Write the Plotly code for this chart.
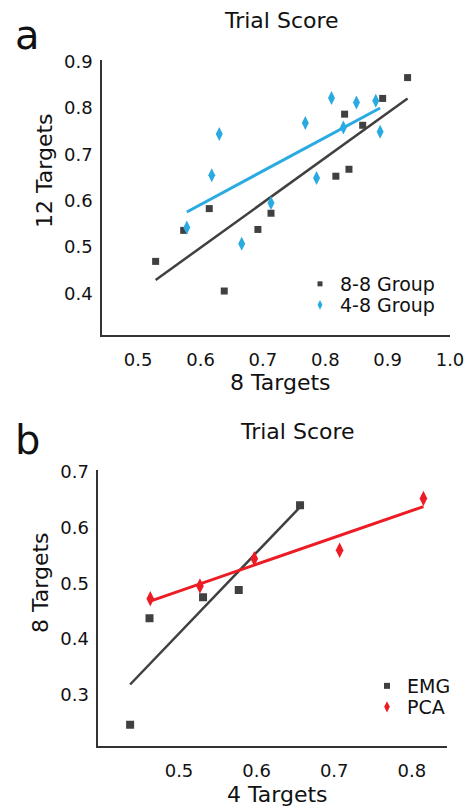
import numpy as np
import plotly.graph_objects as go

W, H = 473, 807

# ---- Panel a data (8 Targets vs 12 Targets) ----
a_g88_x = [0.528, 0.573, 0.614, 0.638, 0.692, 0.713, 0.817, 0.838, 0.831, 0.860, 0.892, 0.932]
a_g88_y = [0.469, 0.536, 0.583, 0.405, 0.538, 0.573, 0.653, 0.668, 0.787, 0.763, 0.821, 0.866]
a_g48_x = [0.578, 0.618, 0.630, 0.666, 0.713, 0.768, 0.786, 0.810, 0.829, 0.850, 0.881, 0.888]
a_g48_y = [0.542, 0.655, 0.744, 0.507, 0.595, 0.768, 0.649, 0.822, 0.758, 0.812, 0.816, 0.749]

# ---- Panel b data (4 Targets vs 8 Targets) ----
b_emg_x = [0.437, 0.462, 0.531, 0.577, 0.656]
b_emg_y = [0.246, 0.437, 0.475, 0.488, 0.640]
b_pca_x = [0.463, 0.527, 0.597, 0.707, 0.815]
b_pca_y = [0.472, 0.495, 0.544, 0.559, 0.652]

a_xticks = [0.5, 0.6, 0.7, 0.8, 0.9, 1.0]
a_xticklabels = ["0.5", "0.6", "0.7", "0.8", "0.9", "1.0"]
a_yticks = [0.4, 0.5, 0.6, 0.7, 0.8, 0.9]
b_xticks = [0.5, 0.6, 0.7, 0.8]
b_yticks = [0.3, 0.4, 0.5, 0.6, 0.7]

GRAY = "#404040"
BLUE = "#29abe2"
RED = "#ed1c24"
FONT = "DejaVu Sans"


def fit(xs, ys):
    xs = np.asarray(xs)
    ys = np.asarray(ys)
    m, c = np.polyfit(xs, ys, 1)
    fx = np.array([xs.min(), xs.max()])
    return fx, m * fx + c


fig = go.Figure()

# Panel a
fx, fy = fit(a_g88_x, a_g88_y)
fig.add_trace(go.Scatter(x=fx, y=fy, mode="lines", line=dict(color=GRAY, width=2.5),
                         showlegend=False, xaxis="x", yaxis="y"))
fx, fy = fit(a_g48_x, a_g48_y)
fig.add_trace(go.Scatter(x=fx, y=fy, mode="lines", line=dict(color=BLUE, width=3),
                         showlegend=False, xaxis="x", yaxis="y"))
fig.add_trace(go.Scatter(x=a_g88_x, y=a_g88_y, mode="markers",
                         marker=dict(symbol="square", size=7, color=GRAY),
                         showlegend=False, xaxis="x", yaxis="y"))
fig.add_trace(go.Scatter(x=a_g48_x, y=a_g48_y, mode="markers",
                         marker=dict(symbol="diamond-tall", size=10, color=BLUE),
                         showlegend=False, xaxis="x", yaxis="y"))
fig.add_trace(go.Scatter(x=[None], y=[None], mode="markers", name="8-8 Group",
                         marker=dict(symbol="square", size=5, color=GRAY),
                         legend="legend", xaxis="x", yaxis="y"))
fig.add_trace(go.Scatter(x=[None], y=[None], mode="markers", name="4-8 Group",
                         marker=dict(symbol="diamond-tall", size=7, color=BLUE),
                         legend="legend2", xaxis="x", yaxis="y"))

# Panel b
fx, fy = fit(b_emg_x, b_emg_y)
fig.add_trace(go.Scatter(x=fx, y=fy, mode="lines", line=dict(color=GRAY, width=2.5),
                         showlegend=False, xaxis="x2", yaxis="y2"))
fx, fy = fit(b_pca_x, b_pca_y)
fig.add_trace(go.Scatter(x=fx, y=fy, mode="lines", line=dict(color=RED, width=3),
                         showlegend=False, xaxis="x2", yaxis="y2"))
fig.add_trace(go.Scatter(x=b_emg_x, y=b_emg_y, mode="markers",
                         marker=dict(symbol="square", size=8, color=GRAY),
                         showlegend=False, xaxis="x2", yaxis="y2"))
fig.add_trace(go.Scatter(x=b_pca_x, y=b_pca_y, mode="markers",
                         marker=dict(symbol="diamond-tall", size=11, color=RED),
                         showlegend=False, xaxis="x2", yaxis="y2"))
fig.add_trace(go.Scatter(x=[None], y=[None], mode="markers", name="EMG",
                         marker=dict(symbol="square", size=6, color=GRAY),
                         legend="legend3", xaxis="x2", yaxis="y2"))
fig.add_trace(go.Scatter(x=[None], y=[None], mode="markers", name="PCA",
                         marker=dict(symbol="diamond-tall", size=8, color=RED),
                         legend="legend4", xaxis="x2", yaxis="y2"))


def px_x(p):
    return p / W


def px_y(p):
    return 1 - p / H


axis_common = dict(showgrid=False, zeroline=False, showline=True, linecolor="#333333",
                   linewidth=1.5, ticks="outside", tickcolor="rgba(0,0,0,0)",
                   automargin=False,
                   tickfont=dict(family=FONT, size=18, color="#111111"))


def legend_at(x, y):
    return dict(x=px_x(x), y=px_y(y), xanchor="left", yanchor="middle",
                font=dict(family=FONT, size=19, color="#111111"),
                bgcolor="rgba(0,0,0,0)", borderwidth=0, itemwidth=30)


fig.update_layout(
    width=W, height=H,
    margin=dict(l=0, r=0, t=0, b=0, autoexpand=False),
    paper_bgcolor="white", plot_bgcolor="white",
    xaxis=dict(domain=[px_x(102), px_x(450)], range=[0.442, 1.0], anchor="y",
               tickvals=a_xticks, ticktext=a_xticklabels, ticklen=8, **axis_common),
    yaxis=dict(domain=[px_y(335), px_y(60)], range=[0.31, 0.904], anchor="x",
               tickvals=a_yticks, tickformat=".1f", ticklen=4, **axis_common),
    xaxis2=dict(domain=[px_x(98.3), px_x(446.7)], range=[0.396, 0.845], anchor="y2",
                tickvals=b_xticks, tickformat=".1f", ticklen=8, **axis_common),
    yaxis2=dict(domain=[px_y(746), px_y(470)], range=[0.208, 0.703], anchor="x2",
                tickvals=b_yticks, tickformat=".1f", ticklen=4, **axis_common),
    legend=legend_at(300, 284),
    legend2=legend_at(300, 305),
    legend3=legend_at(367, 686),
    legend4=legend_at(367, 707),
    showlegend=True,
)

ann = []


def add_text(text, x, y, size, angle=0, xanchor="center", yanchor="middle"):
    ann.append(dict(text=text, x=px_x(x), y=px_y(y), xref="paper", yref="paper",
                    showarrow=False, xanchor=xanchor, yanchor=yanchor, textangle=angle,
                    font=dict(family=FONT, size=size, color="#111111")))


add_text("Trial Score", 281.5, 20, 22)
add_text("Trial Score", 297.5, 432, 22)
add_text("8 Targets", 280, 382, 22)
add_text("4 Targets", 277, 794, 22)
add_text("12 Targets", 44, 171, 22, angle=-90)
add_text("8 Targets", 40, 583, 22, angle=-90)
add_text("a", 13, 35, 40, xanchor="left")
add_text("b", 13, 440, 40, xanchor="left")

fig.update_layout(annotations=ann)

fig.write_html("out.html",
               config={"displayModeBar": False},
               post_script="document.body.style.margin='0';document.body.style.overflow='hidden';")
